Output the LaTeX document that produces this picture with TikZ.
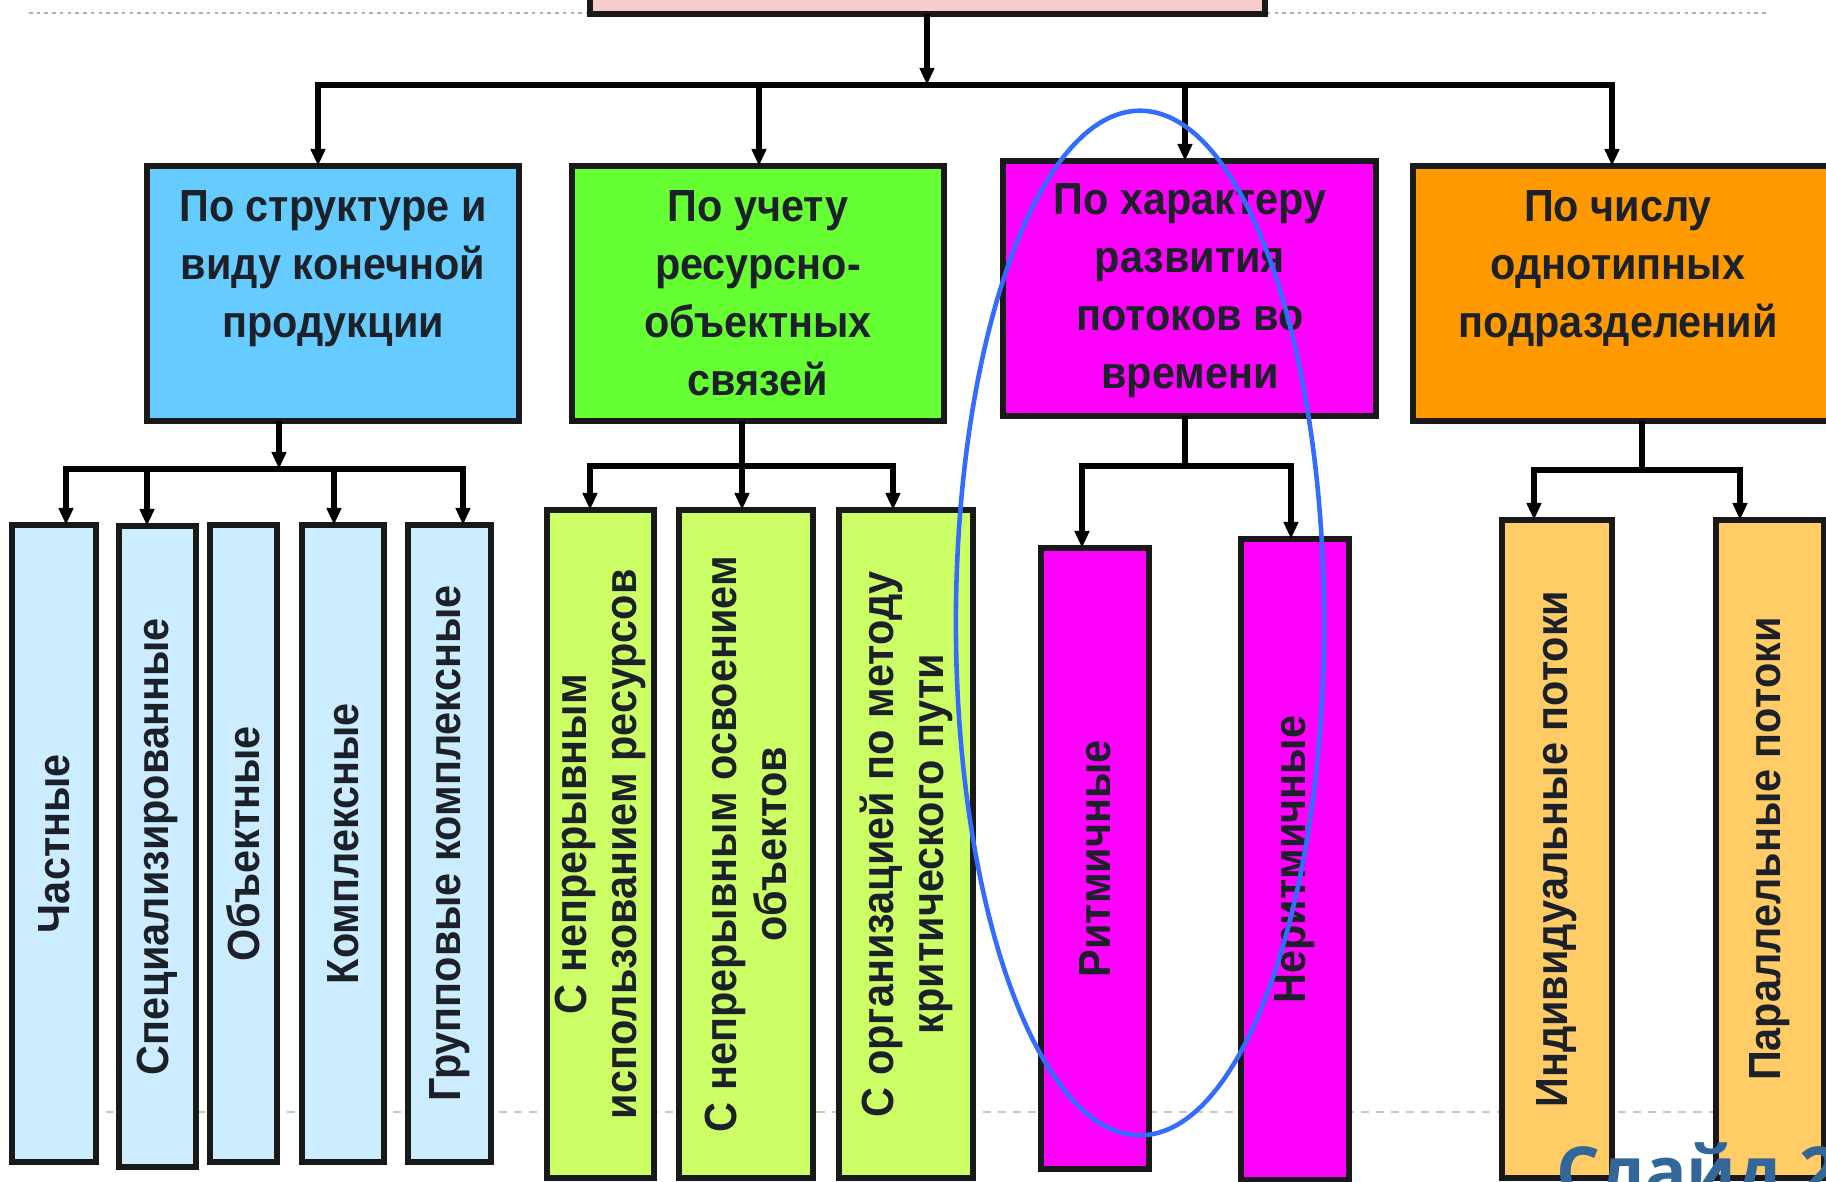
\documentclass[tikz,border=0pt]{standalone}
\usepackage{fontspec}
\setmainfont{Liberation Sans}
\newfontfamily\boxfont{Liberation Sans}[FakeStretch=0.92]
\newfontfamily\slidefont{Open Sans}
\usetikzlibrary{arrows.meta}
\definecolor{topPink}{RGB}{248,204,204}
\definecolor{lOneBlue}{RGB}{102,204,255}
\definecolor{lOneGreen}{RGB}{102,255,51}
\definecolor{lOneMag}{RGB}{255,0,255}
\definecolor{lOneOrange}{RGB}{255,153,0}
\definecolor{lTwoBlue}{RGB}{204,236,255}
\definecolor{lTwoGreen}{RGB}{204,255,102}
\definecolor{lTwoMag}{RGB}{255,0,255}
\definecolor{lTwoOrange}{RGB}{255,204,102}
\definecolor{textdark}{RGB}{28,32,40}
\definecolor{ovalblue}{RGB}{51,108,255}
\definecolor{slideblue}{RGB}{51,102,153}
\begin{document}
\begin{tikzpicture}[x=0.01cm,y=-0.01cm,
  box/.style={draw=black!90, line width=1.7pt, inner sep=0pt, outer sep=0pt, anchor=north west},
  lonetext/.style={anchor=north, align=center, inner sep=0pt, text=textdark,
    font=\boxfont\bfseries\fontsize{12.8pt}{16.5pt}\selectfont},
  ltwotext/.style={rotate=90, align=center, inner sep=0pt, text=textdark,
    font=\boxfont\bfseries\fontsize{12.8pt}{14.2pt}\selectfont},
  conn/.style={line width=1.5pt, draw=black},
  bar/.style={conn, line cap=rect},
  arr/.style={conn, -{Triangle[length=0.17cm,width=0.14cm]}},
  oval/.style={draw=ovalblue, line width=1.3pt}
]
\useasboundingbox (0,0) rectangle (1826,1182);
\fill[white] (0,0) rectangle (1826,1182);
\clip (0,0) rectangle (1826,1182);

% background slide rules
\draw[black!30, line width=0.8pt, dash pattern=on 1pt off 1.2pt] (29,13) -- (1768,13);
\draw[black!22, line width=0.7pt, dash pattern=on 2.3pt off 2pt] (15,1112) -- (1826,1112);

% top box
\node[box, fill=topPink, minimum width=6.75cm, minimum height=0.44cm] (T) at (590,-30) {};

% level 1
\node[box, fill=lOneBlue,   minimum width=3.72cm, minimum height=2.55cm] (A) at (147,166) {};
\node[box, fill=lOneGreen,  minimum width=3.72cm, minimum height=2.55cm] (B) at (572,166) {};
\node[box, fill=lOneMag,    minimum width=3.73cm, minimum height=2.55cm] (C) at (1003,161) {};
\node[box, fill=lOneOrange, minimum width=4.37cm, minimum height=2.55cm] (D) at (1413,166) {};

\node[lonetext] (At) at (333,190) {По структуре и\\виду конечной\\продукции};
\node[lonetext] (Bt) at (758,190) {По учету\\ресурсно-\\объектных\\связей};
\node[lonetext] (Ct) at (1190,183) {По характеру\\развития\\потоков во\\времени};
\node[lonetext] (Dt) at (1618,190) {По числу\\однотипных\\подразделений};

% level 2 boxes
\node[box, fill=lTwoBlue, minimum width=0.84cm, minimum height=6.37cm] (a1) at (12,525) {};
\node[box, fill=lTwoBlue, minimum width=0.77cm, minimum height=6.41cm] (a2) at (119,526) {};
\node[box, fill=lTwoBlue, minimum width=0.67cm, minimum height=6.37cm] (a3) at (210,525) {};
\node[box, fill=lTwoBlue, minimum width=0.82cm, minimum height=6.37cm] (a4) at (302,525) {};
\node[box, fill=lTwoBlue, minimum width=0.83cm, minimum height=6.37cm] (a5) at (408,525) {};

\node[box, fill=lTwoGreen, minimum width=1.07cm, minimum height=6.68cm] (b1) at (547,510) {};
\node[box, fill=lTwoGreen, minimum width=1.34cm, minimum height=6.68cm] (b2) at (679,510) {};
\node[box, fill=lTwoGreen, minimum width=1.34cm, minimum height=6.68cm] (b3) at (839,510) {};

\node[box, fill=lTwoMag, minimum width=1.08cm, minimum height=6.21cm] (c1) at (1041,548) {};
\node[box, fill=lTwoMag, minimum width=1.08cm, minimum height=6.41cm] (c2) at (1241,539) {};

\node[box, fill=lTwoOrange, minimum width=1.10cm, minimum height=6.58cm] (d1) at (1502,520) {};
\node[box, fill=lTwoOrange, minimum width=1.08cm, minimum height=6.58cm] (d2) at (1716,520) {};

% level 2 texts
\node[ltwotext] (a1t) at (a1.center) {Частные};
\node[ltwotext] (a2t) at (a2.center) {Специализированные};
\node[ltwotext] (a3t) at (a3.center) {Объектные};
\node[ltwotext] (a4t) at (a4.center) {Комплексные};
\node[ltwotext] (a5t) at (a5.center) {Групповые комплексные};
\node[ltwotext] (b1t) at (b1.center) {С непрерывным\\использованием ресурсов};
\node[ltwotext] (b2t) at (b2.center) {С непрерывным освоением\\объектов};
\node[ltwotext] (b3t) at (b3.center) {С организацией по методу\\критического пути};
\node[ltwotext] (c1t) at (c1.center) {Ритмичные};
\node[ltwotext] (c2t) at (c2.center) {Неритмичные};
\node[ltwotext] (d1t) at (d1.center) {Индивидуальные потоки};
\node[ltwotext] (d2t) at (d2.center) {Параллельные потоки};

% junction coordinates
\coordinate (j0) at (927,85);
\coordinate (j1) at (318,85);
\coordinate (j2) at (759,85);
\coordinate (j3) at (1185,85);
\coordinate (j4) at (1612,85);
\coordinate (ka) at (279,469);
\coordinate (ka1) at (66,469);
\coordinate (ka2) at (147,469);
\coordinate (ka4) at (334,469);
\coordinate (ka5) at (463,469);
\coordinate (kb) at (742,466);
\coordinate (kb1) at (590,466);
\coordinate (kb3) at (893,466);
\coordinate (kc) at (1185,466);
\coordinate (kc1) at (1082,466);
\coordinate (kc2) at (1291,466);
\coordinate (kd) at (1642,470);
\coordinate (kd1) at (1534,470);
\coordinate (kd2) at (1740,470);

% top level connectors
\draw[bar] (j1) -- (j4);
\draw[arr] (T.south -| j0) -- (j0);
\draw[arr] (j1) -- (j1 |- A.north);
\draw[arr] (j2) -- (j2 |- B.north);
\draw[arr] (j3) -- (j3 |- C.north);
\draw[arr] (j4) -- (j4 |- D.north);

% blue group
\draw[bar] (ka1) -- (ka5);
\draw[arr] (A.south -| ka) -- (ka);
\draw[arr] (ka1) -- (ka1 |- a1.north);
\draw[arr] (ka2) -- (ka2 |- a2.north);
\draw[arr] (ka4) -- (ka4 |- a4.north);
\draw[arr] (ka5) -- (ka5 |- a5.north);

% green group
\draw[bar] (kb1) -- (kb3);
\draw[arr] (B.south -| kb) -- (kb |- b2.north);
\draw[arr] (kb1) -- (kb1 |- b1.north);
\draw[arr] (kb3) -- (kb3 |- b3.north);

% magenta group
\draw[bar] (kc1) -- (kc2);
\draw[conn] (C.south -| kc) -- (kc);
\draw[arr] (kc1) -- (kc1 |- c1.north);
\draw[arr] (kc2) -- (kc2 |- c2.north);

% orange group
\draw[bar] (kd1) -- (kd2);
\draw[conn] (D.south -| kd) -- (kd);
\draw[arr] (kd1) -- (kd1 |- d1.north);
\draw[arr] (kd2) -- (kd2 |- d2.north);

% highlight oval
\draw[oval] (1140,623) ellipse [x radius=1.84cm, y radius=5.12cm];

% slide caption
\node[anchor=base west, inner sep=0pt, text=slideblue,
  font=\slidefont\bfseries\fontsize{19.6pt}{22pt}\selectfont] (slide) at (1556,1196) {Слайд 2};
\end{tikzpicture}
\end{document}
